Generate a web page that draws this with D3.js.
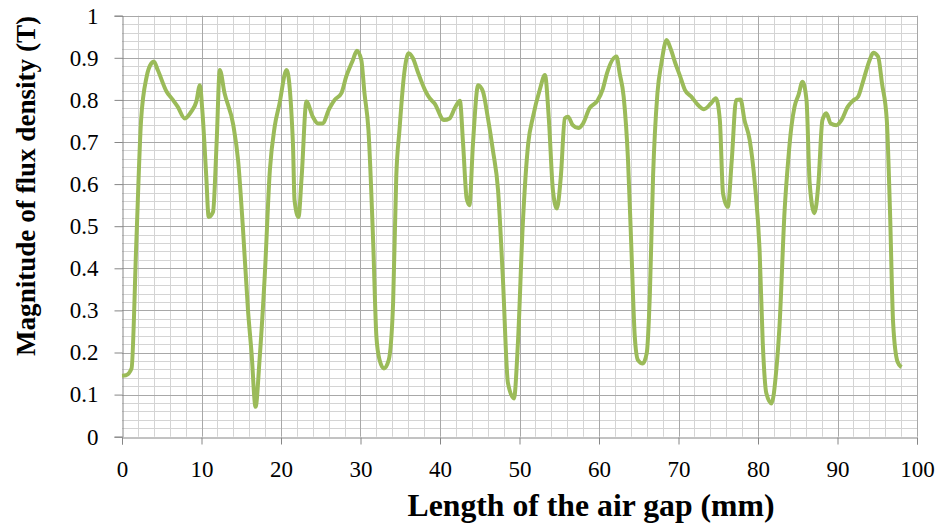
<!DOCTYPE html>
<html>
<head>
<style type="text/css">
body { margin: 0; background: #fff; }
text { font-family: "Liberation Serif", "Times New Roman", serif; fill: #000; }
.tick text { font-size: 23px; }
.axislabel { font-weight: bold; }
.grid-minor { stroke: #d4d4d4; stroke-width: 1; }
.grid-major { stroke: #a8a8a8; stroke-width: 1; }
.fluxline { stroke: #9bbb59; stroke-width: 4; fill: none; stroke-linejoin: round; }
</style>
<script src="https://d3js.org/d3.v7.min.js"></script>
</head>
<body>
<script type="text/javascript">
var width  = 939;
var height = 525;

// air gap position (mm)
var gapPos = [0, 0.5, 1.2, 1.8, 2.4, 3.1, 3.7, 4.0, 4.5, 5.6, 6.4, 7.0, 7.9, 8.7, 9.35, 9.8,
	10.1, 10.6, 10.9, 11.45, 11.9, 12.3, 12.9, 14.0, 14.6, 15.2, 15.85, 16.3, 16.8, 17.3, 17.95, 18.6, 19.2, 19.8,
	20.7, 21.5, 21.7, 22.2, 22.6, 23.2, 24.0, 24.65, 25.2, 26.1, 26.75, 27.6, 28.2, 29.05, 29.55,
	30.1, 30.5, 31.0, 31.6, 32.0, 32.4, 32.95, 33.55, 34.1, 34.5, 34.9, 35.5, 36.05, 36.6, 37.2, 38.1, 38.7, 39.3,
	40.5, 41.2, 41.85, 42.5, 42.9, 43.35, 43.7, 44.15, 44.8, 45.4, 46.0, 46.65, 47.3, 47.9, 48.55, 49.3, 49.8,
	50.4, 51.1, 51.7, 52.55, 53.2, 53.7, 54.2, 54.7, 55.2, 55.7, 56.1, 56.7, 57.4, 58.0, 58.8, 59.8,
	60.5, 61.0, 62.2, 62.6, 63.1, 63.65, 64.05, 64.5, 64.9, 65.5, 66.0, 66.4, 66.8, 67.35, 67.85, 68.5, 69.0, 69.6,
	70.15, 70.8, 71.6, 72.45, 73.2, 74.1, 74.7, 75.2, 75.6, 76.2, 76.7, 77.25, 77.8, 78.3, 78.95, 79.6,
	80.2, 80.6, 81.05, 81.7, 82.3, 82.7, 83.35, 83.8, 84.2, 84.6, 85.1, 85.6, 86.1, 86.5, 87.1, 87.6, 88.1, 88.6, 89.15, 89.85,
	90.5, 91.3, 91.95, 92.6, 93.2, 94.05, 94.5, 95.1, 95.6, 96.2, 96.6, 97.0, 97.55, 98.05];
// flux density magnitude (T)
var fluxB = [0.145, 0.146, 0.162, 0.46, 0.752, 0.855, 0.887, 0.891, 0.871, 0.82, 0.80, 0.784, 0.756, 0.772, 0.796, 0.835,
	0.776, 0.618, 0.522, 0.534, 0.697, 0.871, 0.816, 0.74, 0.657, 0.499, 0.30, 0.198, 0.071, 0.182, 0.38, 0.633, 0.736, 0.79,
	0.871, 0.697, 0.562, 0.522, 0.618, 0.796, 0.76, 0.744, 0.744, 0.78, 0.80, 0.816, 0.855, 0.895, 0.917,
	0.895, 0.816, 0.728, 0.459, 0.238, 0.182, 0.162, 0.182, 0.317, 0.618, 0.728, 0.863, 0.911, 0.899, 0.867, 0.824, 0.804, 0.792,
	0.752, 0.756, 0.78, 0.798, 0.697, 0.566, 0.55, 0.697, 0.835, 0.82, 0.76, 0.681, 0.586, 0.38, 0.127, 0.091, 0.222,
	0.499, 0.697, 0.76, 0.824, 0.859, 0.752, 0.586, 0.542, 0.618, 0.756, 0.76, 0.74, 0.733, 0.744, 0.78, 0.798,
	0.827, 0.863, 0.903, 0.863, 0.808, 0.657, 0.459, 0.238, 0.182, 0.174, 0.198, 0.34, 0.618, 0.816, 0.887, 0.942, 0.922, 0.887,
	0.859, 0.824, 0.808, 0.788, 0.778, 0.792, 0.804, 0.752, 0.578, 0.546, 0.657, 0.80, 0.801, 0.752, 0.705, 0.602,
	0.443, 0.222, 0.103, 0.079, 0.158, 0.261, 0.538, 0.657, 0.736, 0.784, 0.812, 0.843, 0.80, 0.602, 0.531, 0.602, 0.752, 0.768, 0.744, 0.74,
	0.752, 0.784, 0.798, 0.808, 0.843, 0.895, 0.912, 0.903, 0.839, 0.752, 0.538, 0.269, 0.178, 0.165];

var xTicks = [0, 10, 20, 30, 40, 50, 60, 70, 80, 90, 100];
var yTicks = [0, 0.1, 0.2, 0.3, 0.4, 0.5, 0.6, 0.7, 0.8, 0.9, 1];

var data = gapPos.map(function(d, i) { return { x: d, y: fluxB[i] }; });

var plotLeft = 122, plotRight = 917, plotTop = 15.7, plotBottom = 436.7;

var svg = d3.select("body").append("svg").attr("width", width).attr("height", height);

var x = d3.scaleLinear().domain([0, 100]).range([plotLeft, plotRight]);
var y = d3.scaleLinear().domain([0, 1]).range([plotBottom, plotTop]);

function px(v) { return Math.round(v) + 0.5; }

// grid
var g = svg.append("g");
g.selectAll(".vmin").data(d3.range(2, 100, 2).filter(function(d){ return d % 10 != 0; }))
	.enter().append("line").attr("class", "grid-minor")
	.attr("x1", function(d){ return px(x(d)); }).attr("x2", function(d){ return px(x(d)); })
	.attr("y1", plotTop).attr("y2", plotBottom);
g.selectAll(".hmin").data(d3.range(1, 50).filter(function(d){ return d % 5 != 0; }))
	.enter().append("line").attr("class", "grid-minor")
	.attr("y1", function(d){ return px(y(d / 50)); }).attr("y2", function(d){ return px(y(d / 50)); })
	.attr("x1", plotLeft).attr("x2", plotRight);
g.selectAll(".vmaj").data(xTicks.slice(1))
	.enter().append("line").attr("class", "grid-major")
	.attr("x1", function(d){ return px(x(d)); }).attr("x2", function(d){ return px(x(d)); })
	.attr("y1", plotTop).attr("y2", plotBottom);
g.selectAll(".hmaj").data(yTicks.slice(1))
	.enter().append("line").attr("class", "grid-major")
	.attr("y1", function(d){ return px(y(d)); }).attr("y2", function(d){ return px(y(d)); })
	.attr("x1", plotLeft).attr("x2", plotRight);

// axes
var xAxis = d3.axisBottom(x).tickValues(xTicks).tickSize(7).tickPadding(16).tickFormat(d3.format("d"));
svg.append("g").attr("transform", "translate(0," + px(plotBottom) + ")").call(xAxis);

var yAxis = d3.axisLeft(y).tickValues(yTicks).tickSize(8).tickPadding(16).tickFormat(function(d){ return String(d); });
svg.append("g").attr("transform", "translate(" + px(plotLeft) + ",0)").call(yAxis);

svg.selectAll(".domain").attr("stroke", "#868686");
svg.selectAll(".tick line").attr("stroke", "#868686");

// line
var line = d3.line()
	.x(function(d){ return x(d.x); })
	.y(function(d){ return y(d.y); })
	.curve(d3.curveMonotoneX);
svg.append("path").datum(data).attr("class", "fluxline").attr("d", line);

// labels
svg.append("text").attr("class", "axislabel")
	.attr("x", 591).attr("y", 516).attr("text-anchor", "middle")
	.style("font-size", "31px")
	.attr("textLength", 367).attr("lengthAdjust", "spacingAndGlyphs")
	.text("Length of the air gap (mm)");
svg.append("text").attr("class", "axislabel")
	.attr("transform", "translate(35,186) rotate(-90)")
	.attr("text-anchor", "middle")
	.style("font-size", "27px")
	.attr("textLength", 340).attr("lengthAdjust", "spacingAndGlyphs")
	.text("Magnitude of flux density (T)");
</script>
</body>
</html>
